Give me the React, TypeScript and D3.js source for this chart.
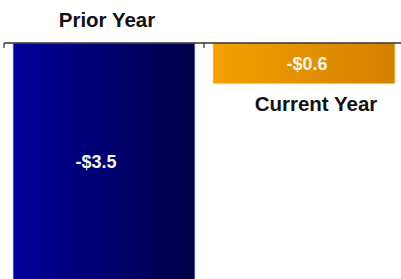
import React from 'react';
import { scaleBand, scaleLinear } from 'd3';

const categories = ['Prior Year', 'Current Year'];
const values = [-3.5, -0.6];
const valueLabels = ['-$3.5', '-$0.6'];

const width = 401;
const height = 279;
const axisY = 43;

const x = scaleBand<string>()
  .domain(categories)
  .range([4, 404])
  .paddingInner(0.09)
  .paddingOuter(0.045);

const y = scaleLinear().domain([-3.5, 0]).range([281, axisY]);

const gradients = [
  { id: 'gBlue', from: '#00009a', to: '#000048' },
  { id: 'gOrange', from: '#f4a000', to: '#d38000' },
];

const App = () => {
  return (
    <svg
      width={width}
      height={height}
      style={{ position: 'absolute', left: 0, top: 0, background: '#fff' }}
      fontFamily="'Liberation Sans', Arial, sans-serif"
      fontWeight="bold"
    >
      <defs>
        {gradients.map(g => (
          <linearGradient key={g.id} id={g.id} x1="0" x2="1" y1="0" y2="0">
            <stop offset="0%" stopColor={g.from} />
            <stop offset="100%" stopColor={g.to} />
          </linearGradient>
        ))}
      </defs>

      {categories.map((c, i) => {
        const x0 = x(c) as number;
        const bw = x.bandwidth();
        const top = y(Math.max(0, values[i]));
        const bottom = y(Math.min(0, values[i]));
        return (
          <g key={c}>
            <rect
              x={x0}
              y={top}
              width={bw}
              height={bottom - top}
              fill={`url(#${gradients[i].id})`}
              stroke={i === 0 ? '#c8c8f0' : '#f6d9a0'}
              strokeWidth={0.8}
            />
            <text
              x={x0 + bw / 2 + (i === 0 ? -8 : 3)}
              y={(top + bottom) / 2}
              dy="0.35em"
              textAnchor="middle"
              fill="#f4f4e8"
              fontSize={18}
            >
              {valueLabels[i]}
            </text>
          </g>
        );
      })}

      <line x1={4} x2={width} y1={axisY} y2={axisY} stroke="#333" strokeWidth={1.5} />
      {categories.map(c => {
        const tx = (x(c) as number) - x.step() * x.paddingInner() / 2;
        return <line key={c} x1={tx} x2={tx} y1={axisY} y2={axisY + 5} stroke="#333" strokeWidth={1.2} />;
      })}

      <text x={(x('Prior Year') as number) + x.bandwidth() / 2 + 3} y={27} textAnchor="middle" fontSize={20.5} fill="#111">
        Prior Year
      </text>
      <text
        x={(x('Current Year') as number) + x.bandwidth() / 2 + 12}
        y={y(values[1]) + 27}
        textAnchor="middle"
        fontSize={20.5}
        fill="#111"
      >
        Current Year
      </text>
    </svg>
  );
};

export default App;
